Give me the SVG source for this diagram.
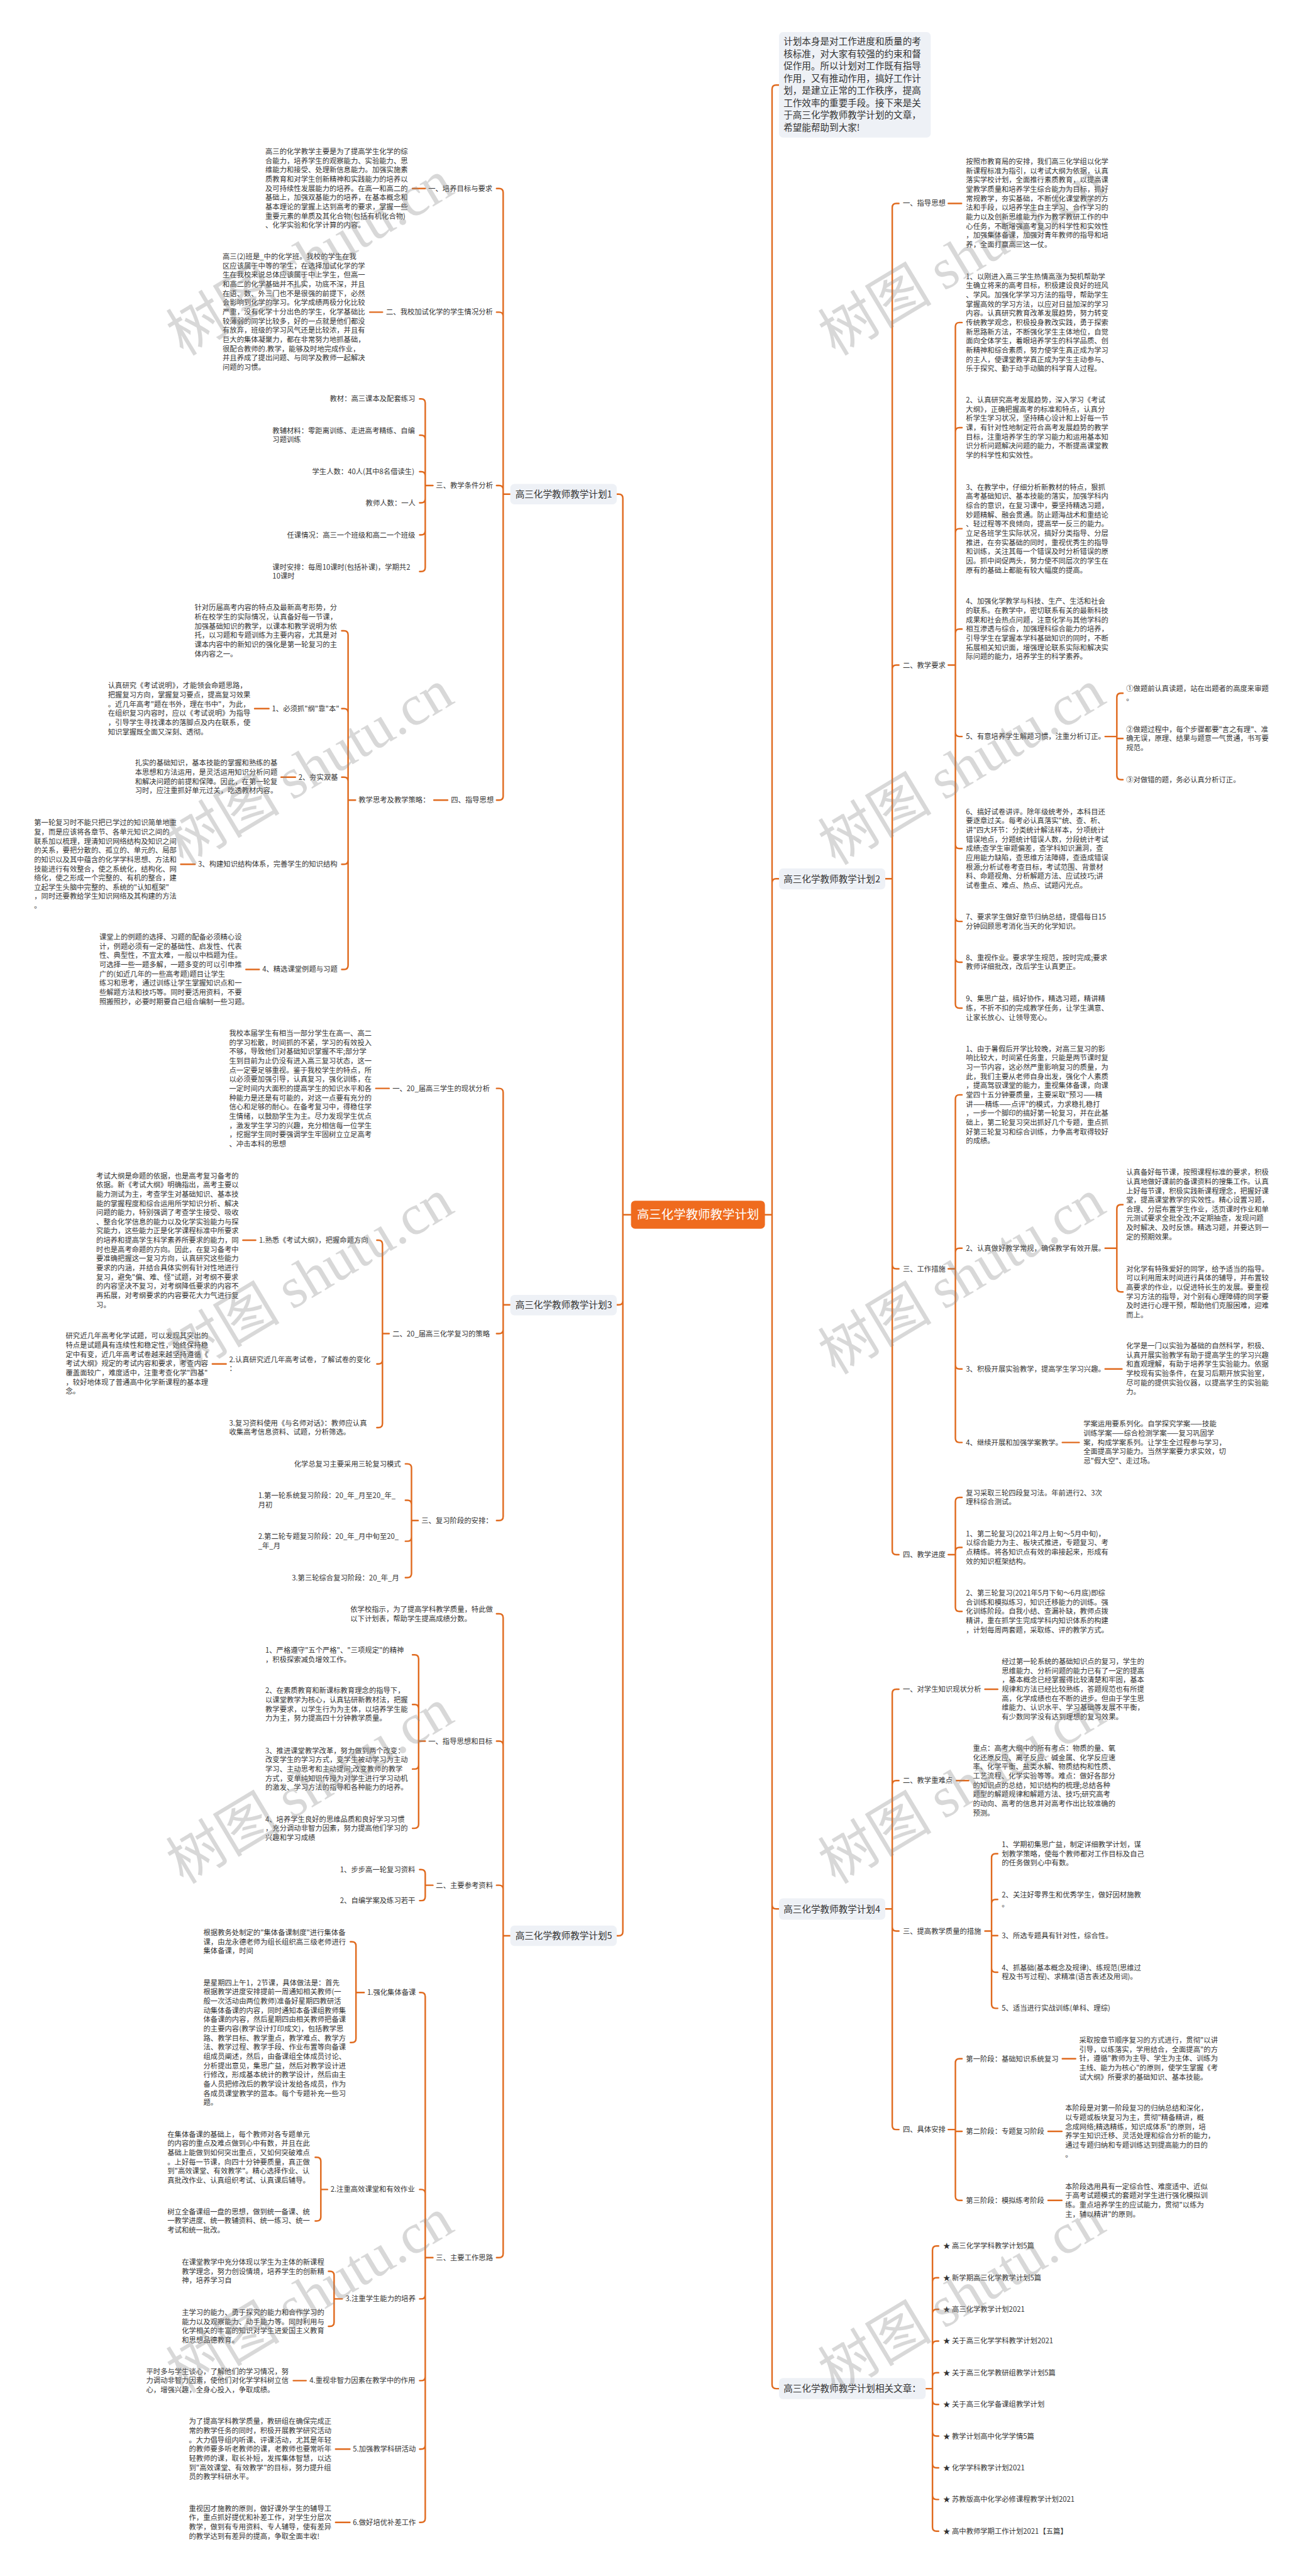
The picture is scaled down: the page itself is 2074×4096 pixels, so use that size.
<svg xmlns="http://www.w3.org/2000/svg" width="2074" height="4096" viewBox="0 0 2074 4096">
<style>
.t{font-family:"Noto Sans CJK SC","Liberation Sans",sans-serif;font-size:14px;fill:#333}
.m{font-size:18px}
.c{font-size:24px;fill:#fff}
.e{fill:none;stroke:#e06a1e;stroke-width:3;stroke-linecap:round}
.b{fill:#eef1f6}
.w{font-family:"Noto Sans CJK SC",sans-serif;font-size:112px;fill:#8a8a8a;fill-opacity:.33}
.ws{font-family:"Liberation Serif",serif}
</style>
<rect width="2074" height="4096" fill="#fff"/>
<g transform="scale(0.81)">
<g id="connectors">
<path class="e" d="M1239,2384.5H1223M1223,2384.5V978Q1223,970 1215,970H1211M1223,2384.5V2553.5Q1223,2561.5 1215,2561.5H1211M1223,2384.5V3792Q1223,3800 1215,3800H1211"/>
<path class="e" d="M1002,970H988M988,970V378Q988,370 980,370H975M988,970V620.8Q988,612.8 980,612.8H975M988,970V961Q988,953 980,953H975M988,970V1562.6Q988,1570.6 980,1570.6H975"/>
<path class="e" d="M835,370H810M751,612.8H726M850,953H835M835,953V791Q835,783 827,783H824M835,953V862.3Q835,854.3 827,854.3H824M835,953V934Q835,926 827,926H824M835,953V979Q835,987 827,987H824M835,953V1042Q835,1050 827,1050H824M835,953V1114Q835,1122 827,1122H824"/>
<path class="e" d="M879,1570.6H852M698,1570.6H683.5M683.5,1570.6V1246.3Q683.5,1238.3 675.5,1238.3H671M683.5,1570.6V1399Q683.5,1391 675.5,1391H671M683.5,1570.6V1533.7Q683.5,1525.7 675.5,1525.7H671M683.5,1570.6V1688.6Q683.5,1696.6 675.5,1696.6H671M683.5,1570.6V1895Q683.5,1903 675.5,1903H671M528,1391H500M580,1525.7H552M383,1696.6H355M509,1903H483"/>
<path class="e" d="M1002,2561.5H988M988,2561.5V2144.6Q988,2136.6 980,2136.6H975M988,2561.5V2610Q988,2618 980,2618H975M988,2561.5V2976.8Q988,2984.8 980,2984.8H975"/>
<path class="e" d="M764,2136.6H738M764,2618H751M751,2618V2442.6Q751,2434.6 743,2434.6H740M751,2618V2669.5Q751,2677.5 743,2677.5H740M751,2618V2794.5Q751,2802.5 743,2802.5H740M502,2434.6H477M444,2677.5H417"/>
<path class="e" d="M821,2984.8H808M808,2984.8V2881.6Q808,2873.6 800,2873.6H796M808,2984.8V2953Q808,2945 800,2945H796M808,2984.8V3017.5Q808,3025.5 800,3025.5H796M808,2984.8V3089Q808,3097 800,3097H796"/>
<path class="e" d="M1002,3800H988M988,3800V3176Q988,3168 980,3168H975M988,3800V3426Q988,3418 980,3418H975M988,3800V3708.8Q988,3700.8 980,3700.8H975M988,3800V4423.7Q988,4431.7 980,4431.7H975"/>
<path class="e" d="M835,3418H822M822,3418V3256.5Q822,3248.5 814,3248.5H810M822,3418V3354Q822,3346 814,3346H810M822,3418V3464.7Q822,3472.7 814,3472.7H810M822,3418V3581Q822,3589 814,3589H810"/>
<path class="e" d="M850,3700.8H835M835,3700.8V3678Q835,3670 827,3670H824M835,3700.8V3723Q835,3731 827,3731H824"/>
<path class="e" d="M850,4431.7H835M835,4431.7V3919.5Q835,3911.5 827,3911.5H824M835,4431.7V4306Q835,4298 827,4298H824M835,4431.7V4504.8Q835,4512.8 827,4512.8H824M835,4431.7V4665.3Q835,4673.3 827,4673.3H824M835,4431.7V4799.7Q835,4807.7 827,4807.7H824M835,4431.7V4943.6Q835,4951.6 827,4951.6H824"/>
<path class="e" d="M715,3911.5H699M699,3911.5V3819.8Q699,3811.8 691,3811.8H688M699,3911.5V4001.6Q699,4009.6 691,4009.6H688M643,4298H630M630,4298V4242.9Q630,4234.9 622,4234.9H619M630,4298V4351.8Q630,4359.8 622,4359.8H619M672,4512.8H656M656,4512.8V4466.7Q656,4458.7 648,4458.7H645M656,4512.8V4558.6Q656,4566.6 648,4566.6H645M601,4673.3H576M687,4807.7H659M687,4951.6H659"/>
<path class="e" d="M1502,2384.5H1516M1516,2384.5V175Q1516,167 1524,167H1529.6M1516,2384.5V1733Q1516,1725 1524,1725H1529.6M1516,2384.5V3739.3Q1516,3747.3 1524,3747.3H1529.6M1516,2384.5V4681Q1516,4689 1524,4689H1529.6"/>
<path class="e" d="M1738.3,1725H1752M1752,1725V407.3Q1752,399.3 1760,399.3H1765M1752,1725V1313.6Q1752,1305.6 1760,1305.6H1765M1752,1725V2482.7Q1752,2490.7 1760,2490.7H1765M1752,1725V3043.8Q1752,3051.8 1760,3051.8H1765M1862,399.3H1888"/>
<path class="e" d="M1862,1305.6H1876M1876,1305.6V641.2Q1876,633.2 1884,633.2H1889M1876,1305.6V847.6Q1876,839.6 1884,839.6H1889M1876,1305.6V1045.8Q1876,1037.8 1884,1037.8H1889M1876,1305.6V1242.9Q1876,1234.9 1884,1234.9H1889M1876,1305.6V1437.8Q1876,1445.8 1884,1445.8H1889M1876,1305.6V1657.7Q1876,1665.7 1884,1665.7H1889M1876,1305.6V1800.8Q1876,1808.8 1884,1808.8H1889M1876,1305.6V1880.8Q1876,1888.8 1884,1888.8H1889M1876,1305.6V1971Q1876,1979 1884,1979H1889"/>
<path class="e" d="M2170,1445.8H2193M2193,1445.8V1368.7Q2193,1360.7 2201,1360.7H2205M2193,1445.8V1449.8H2205M2193,1445.8V1522.5Q2193,1530.5 2201,1530.5H2205"/>
<path class="e" d="M1862,2490.7H1876M1876,2490.7V2157.2Q1876,2149.2 1884,2149.2H1889M1876,2490.7V2458.4Q1876,2450.4 1884,2450.4H1889M1876,2490.7V2679.3Q1876,2687.3 1884,2687.3H1889M1876,2490.7V2823.6Q1876,2831.6 1884,2831.6H1889M2170,2450.4H2193M2193,2450.4V2372.8Q2193,2364.8 2201,2364.8H2205M2193,2450.4V2528Q2193,2536 2201,2536H2205M2170,2687.3H2203M2086,2831.6H2119"/>
<path class="e" d="M1862,3051.8H1876M1876,3051.8V2947.5Q1876,2939.5 1884,2939.5H1889M1876,3051.8V3045.6Q1876,3037.6 1884,3037.6H1889M1876,3051.8V3155.2Q1876,3163.2 1884,3163.2H1889"/>
<path class="e" d="M1738.3,3747.3H1752M1752,3747.3V3324Q1752,3316 1760,3316H1765M1752,3747.3V3503.3Q1752,3495.3 1760,3495.3H1765M1752,3747.3V3782.8Q1752,3790.8 1760,3790.8H1765M1752,3747.3V4172.4Q1752,4180.4 1760,4180.4H1765M1934,3316H1959M1878,3495.3H1902"/>
<path class="e" d="M1934,3790.8H1947M1947,3790.8V3646.9Q1947,3638.9 1955,3638.9H1959M1947,3790.8V3736.7Q1947,3728.7 1955,3728.7H1959M1947,3790.8V3799.6H1959M1947,3790.8V3863.5Q1947,3871.5 1955,3871.5H1959M1947,3790.8V3934.4Q1947,3942.4 1955,3942.4H1959"/>
<path class="e" d="M1862,4180.4H1876M1876,4180.4V4049.3Q1876,4041.3 1884,4041.3H1889M1876,4180.4V4184H1889M1876,4180.4V4311.4Q1876,4319.4 1884,4319.4H1889M2086,4041.3H2112M2058,4184H2085M2058,4319.4H2085"/>
<path class="e" d="M1817.5,4689H1831M1831,4689V4417Q1831,4409 1839,4409H1843M1831,4689V4479.2Q1831,4471.2 1839,4471.2H1843M1831,4689V4541.4Q1831,4533.4 1839,4533.4H1843M1831,4689V4603.6Q1831,4595.6 1839,4595.6H1843M1831,4689V4665.8Q1831,4657.8 1839,4657.8H1843M1831,4689V4712Q1831,4720 1839,4720H1843M1831,4689V4774.2Q1831,4782.2 1839,4782.2H1843M1831,4689V4836.4Q1831,4844.4 1839,4844.4H1843M1831,4689V4898.6Q1831,4906.6 1839,4906.6H1843M1831,4689V4960.8Q1831,4968.8 1839,4968.8H1843"/>
</g>

<g id="center"><rect x="1239" y="2357" width="263" height="55" rx="8" fill="#ef6b1e"/><text class="t c" x="1370.5" y="2393" text-anchor="middle">高三化学教师教学计划</text></g>

<g id="intro"><rect class="b" x="1529.6" y="63" width="298" height="207" rx="8"/><text class="t m" x="1538.5" y="87.7"><tspan x="1538.5">计划本身是对工作进度和质量的考</tspan><tspan x="1538.5" dy="24.1">核标准，对大家有较强的约束和督</tspan><tspan x="1538.5" dy="24.1">促作用。所以计划对工作既有指导</tspan><tspan x="1538.5" dy="24.1">作用，又有推动作用，搞好工作计</tspan><tspan x="1538.5" dy="24.1">划，是建立正常的工作秩序，提高</tspan><tspan x="1538.5" dy="24.1">工作效率的重要手段。接下来是关</tspan><tspan x="1538.5" dy="24.1">于高三化学教师教学计划的文章，</tspan><tspan x="1538.5" dy="24.1">希望能帮助到大家!</tspan></text></g>

<g id="plan1"><rect class="b" x="1002" y="950" width="209" height="40" rx="8"/><text class="t m" x="1012" y="976.5">高三化学教师教学计划1</text></g>
<g id="p1-1"><text class="t" x="841" y="375">一、培养目标与要求</text></g>
<g id="p1-1a"><text class="t" x="521" y="302.5"><tspan x="521">高三的化学教学主要是为了提高学生化学的综</tspan><tspan x="521" dy="18.1">合能力，培养学生的观察能力、实验能力、思</tspan><tspan x="521" dy="18.1">维能力和接受、处理新信息能力。加强实施素</tspan><tspan x="521" dy="18.1">质教育和对学生创新精神和实践能力的培养以</tspan><tspan x="521" dy="18.1">及可持续性发展能力的培养。在高一和高二的</tspan><tspan x="521" dy="18.1">基础上，加强双基能力的培养，在基本概念和</tspan><tspan x="521" dy="18.1">基本理论的掌握上达到高考的要求，掌握一些</tspan><tspan x="521" dy="18.1">重要元素的单质及其化合物(包括有机化合物)</tspan><tspan x="521" dy="18.1">、化学实验和化学计算的内容。</tspan></text></g>
<g id="p1-2"><text class="t" x="758" y="617.8">二、我校加试化学的学生情况分析</text></g>
<g id="p1-2a"><text class="t" x="437" y="508.6"><tspan x="437">高三(2)班是_中的化学班。我校的学生在我</tspan><tspan x="437" dy="18.1">区应该属于中等的学生，在选择加试化学的学</tspan><tspan x="437" dy="18.1">生在我校来说总体应该属于中上学生，但高一</tspan><tspan x="437" dy="18.1">和高二的化学基础并不扎实，功底不深，并且</tspan><tspan x="437" dy="18.1">在语、数、外三门也不是很强的前提下，必然</tspan><tspan x="437" dy="18.1">会影响到化学的学习。化学成绩两极分化比较</tspan><tspan x="437" dy="18.1">严重，没有化学十分出色的学生，化学基础比</tspan><tspan x="437" dy="18.1">较薄弱的同学比较多，好的一点就是他们都没</tspan><tspan x="437" dy="18.1">有放弃，班级的学习风气还是比较浓，并且有</tspan><tspan x="437" dy="18.1">巨大的集体凝聚力，都在非常努力地抓基础，</tspan><tspan x="437" dy="18.1">很配合教师的.教学，能够及时地完成作业，</tspan><tspan x="437" dy="18.1">并且养成了提出问题、与同学及教师一起解决</tspan><tspan x="437" dy="18.1">问题的习惯。</tspan></text></g>
<g id="p1-3"><text class="t" x="856" y="958">三、教学条件分析</text></g>
<g id="p1-3a"><text class="t" x="647.5" y="788">教材：高三课本及配套练习</text></g>
<g id="p1-3b"><text class="t" x="535" y="850.4"><tspan x="535">教辅材料：零距离训练、走进高考精练、自编</tspan><tspan x="535" dy="18.1">习题训练</tspan></text></g>
<g id="p1-3c"><text class="t" x="613" y="931">学生人数：40人(其中8名借读生)</text></g>
<g id="p1-3d"><text class="t" x="718" y="992">教师人数：一人</text></g>
<g id="p1-3e"><text class="t" x="563.6" y="1055">任课情况：高三一个班级和高二一个班级</text></g>
<g id="p1-3f"><text class="t" x="535" y="1118"><tspan x="535">课时安排：每周10课时(包括补课)，学期共2</tspan><tspan x="535" dy="18.1">10课时</tspan></text></g>
<g id="p1-4"><text class="t" x="885.5" y="1575.6">四、指导思想</text></g>
<g id="p1-4a"><text class="t" x="704" y="1575.6">教学思考及教学策略：</text></g>
<g id="p1-4a0"><text class="t" x="382" y="1198"><tspan x="382">针对历届高考内容的特点及最新高考形势，分</tspan><tspan x="382" dy="18.1">析在校学生的实际情况，认真备好每一节课，</tspan><tspan x="382" dy="18.1">加强基础知识的教学，以课本和教学说明为依</tspan><tspan x="382" dy="18.1">托，以习题和专题训练为主要内容，尤其是对</tspan><tspan x="382" dy="18.1">课本内容中的新知识的强化是第一轮复习的主</tspan><tspan x="382" dy="18.1">体内容之一。</tspan></text></g>
<g id="p1-4a1"><text class="t" x="534" y="1396">1、必须抓"纲"靠"本"</text></g>
<g id="p1-4a1x"><text class="t" x="212" y="1351"><tspan x="212">认真研究《考试说明》，才能领会命题思路，</tspan><tspan x="212" dy="18.1">把握复习方向，掌握复习要点，提高复习效果</tspan><tspan x="212" dy="18.1">。近几年高考"题在书外，理在书中"，为此，</tspan><tspan x="212" dy="18.1">在组织复习内容时，应以《考试说明》为指导</tspan><tspan x="212" dy="18.1">，引导学生寻找课本的落脚点及内在联系，使</tspan><tspan x="212" dy="18.1">知识掌握既全面又深刻、透彻。</tspan></text></g>
<g id="p1-4a2"><text class="t" x="586" y="1530.7">2、夯实双基</text></g>
<g id="p1-4a2x"><text class="t" x="265" y="1503"><tspan x="265">扎实的基础知识，基本技能的掌握和熟练的基</tspan><tspan x="265" dy="18.1">本思想和方法运用，是灵活运用知识分析问题</tspan><tspan x="265" dy="18.1">和解决问题的前提和保障。因此，在第一轮复</tspan><tspan x="265" dy="18.1">习时，应注重抓好单元过关，吃透教材内容。</tspan></text></g>
<g id="p1-4a3"><text class="t" x="389" y="1701.6">3、构建知识结构体系，完善学生的知识结构</text></g>
<g id="p1-4a3x"><text class="t" x="67" y="1620"><tspan x="67">第一轮复习时不能只把已学过的知识简单地重</tspan><tspan x="67" dy="18.1">复，而是应该将各章节、各单元知识之间的</tspan><tspan x="67" dy="18.1">联系加以梳理，理清知识网络结构及知识之间</tspan><tspan x="67" dy="18.1">的关系，要把分散的、孤立的、单元的、局部</tspan><tspan x="67" dy="18.1">的知识以及其中蕴含的化学学科思想、方法和</tspan><tspan x="67" dy="18.1">技能进行有效整合，使之系统化，结构化、网</tspan><tspan x="67" dy="18.1">络化，使之形成一个完整的、有机的整合，建</tspan><tspan x="67" dy="18.1">立起学生头脑中完整的、系统的"认知框架"</tspan><tspan x="67" dy="18.1">，同时还要教给学生知识网络及其构建的方法</tspan><tspan x="67" dy="18.1">。</tspan></text></g>
<g id="p1-4a4"><text class="t" x="515" y="1908">4、精选课堂例题与习题</text></g>
<g id="p1-4a4x"><text class="t" x="195" y="1844.6"><tspan x="195">课堂上的例题的选择、习题的配备必须精心设</tspan><tspan x="195" dy="18.1">计，例题必须有一定的基础性、启发性、代表</tspan><tspan x="195" dy="18.1">性、典型性，不宜太难，一般以中档题为佳。</tspan><tspan x="195" dy="18.1">可选择一些一题多解，一题多变的可以引申推</tspan><tspan x="195" dy="18.1">广的(如近几年的一些高考题)题目让学生</tspan><tspan x="195" dy="18.1">练习和思考，通过训练让学生掌握知识点和一</tspan><tspan x="195" dy="18.1">些解题方法和技巧等。同时要活用资料，不要</tspan><tspan x="195" dy="18.1">照搬照抄，必要时期要自己组合编制一些习题。</tspan></text></g>

<g id="plan3"><rect class="b" x="1002" y="2542" width="209" height="40" rx="8"/><text class="t m" x="1012" y="2568">高三化学教师教学计划3</text></g>
<g id="p3-1"><text class="t" x="770.6" y="2141.6">一、20_届高三学生的现状分析</text></g>
<g id="p3-1a"><text class="t" x="450" y="2033.5"><tspan x="450">我校本届学生有相当一部分学生在高一、高二</tspan><tspan x="450" dy="18.1">的学习松散，时间抓的不紧，学习的有效投入</tspan><tspan x="450" dy="18.1">不够，导致他们对基础知识掌握不牢;部分学</tspan><tspan x="450" dy="18.1">生到目前为止仍没有进入高三复习状态，这一</tspan><tspan x="450" dy="18.1">点一定要足够重视。鉴于我校学生的特点，所</tspan><tspan x="450" dy="18.1">以必须要加强引导，认真复习，强化训练，在</tspan><tspan x="450" dy="18.1">一定时间内大面积的提高学生的知识水平和各</tspan><tspan x="450" dy="18.1">种能力是还是有可能的，对这一点要有充分的</tspan><tspan x="450" dy="18.1">信心和足够的耐心。在备考复习中，得稳住学</tspan><tspan x="450" dy="18.1">生情绪，以鼓励学生为主。尽力发现学生优点</tspan><tspan x="450" dy="18.1">，激发学生学习的兴趣，充分相信每一位学生</tspan><tspan x="450" dy="18.1">，挖掘学生同时要强调学生牢固树立立足高考</tspan><tspan x="450" dy="18.1">、冲击本科的思想</tspan></text></g>
<g id="p3-2"><text class="t" x="770.6" y="2623">二、20_届高三化学复习的策略</text></g>
<g id="p3-2a"><text class="t" x="508.6" y="2439.6">1.熟悉《考试大纲》，把握命题方向</text></g>
<g id="p3-2ax"><text class="t" x="189" y="2313"><tspan x="189">考试大纲是命题的依据，也是高考复习备考的</tspan><tspan x="189" dy="18.1">依据。新《考试大纲》明确指出，高考主要以</tspan><tspan x="189" dy="18.1">能力测试为主，考查学生对基础知识、基本技</tspan><tspan x="189" dy="18.1">能的掌握程度和综合运用所学知识分析、解决</tspan><tspan x="189" dy="18.1">问题的能力，特别强调了考查学生接受、吸收</tspan><tspan x="189" dy="18.1">、整合化学信息的能力以及化学实验能力与探</tspan><tspan x="189" dy="18.1">究能力，这些能力正是化学课程标准中所要求</tspan><tspan x="189" dy="18.1">的培养和提高学生科学素养所要求的能力，同</tspan><tspan x="189" dy="18.1">时也是高考命题的方向。因此，在复习备考中</tspan><tspan x="189" dy="18.1">要准确把握这一复习方向，认真研究这些能力</tspan><tspan x="189" dy="18.1">要求的内涵，并结合具体实例有针对性地进行</tspan><tspan x="189" dy="18.1">复习，避免"偏、难、怪"试题，对考纲不要求</tspan><tspan x="189" dy="18.1">的内容坚决不复习，对考纲降低要求的内容不</tspan><tspan x="189" dy="18.1">再拓展，对考纲要求的内容要花大力气进行复</tspan><tspan x="189" dy="18.1">习。</tspan></text></g>
<g id="p3-2b"><text class="t" x="450" y="2673.5"><tspan x="450">2.认真研究近几年高考试卷，了解试卷的变化</tspan><tspan x="450" dy="18.1">：</tspan></text></g>
<g id="p3-2bx"><text class="t" x="129" y="2627.7"><tspan x="129">研究近几年高考化学试题，可以发现其突出的</tspan><tspan x="129" dy="18.1">特点是试题具有连续性和稳定性，始终保持稳</tspan><tspan x="129" dy="18.1">定中有变，近几年高考试卷越来越坚持遵循《</tspan><tspan x="129" dy="18.1">考试大纲》规定的考试内容和要求，考查内容</tspan><tspan x="129" dy="18.1">覆盖面较广，难度适中，注重考查化学"四基"</tspan><tspan x="129" dy="18.1">，较好地体现了普通高中化学新课程的基本理</tspan><tspan x="129" dy="18.1">念。</tspan></text></g>
<g id="p3-2c"><text class="t" x="450" y="2798.5"><tspan x="450">3.复习资料使用《与名师对话》：教师应认真</tspan><tspan x="450" dy="18.1">收集高考信息资料、试题，分析筛选。</tspan></text></g>
<g id="p3-3"><text class="t" x="827.5" y="2989.8">三、复习阶段的安排：</text></g>
<g id="p3-3a"><text class="t" x="577.5" y="2878.6">化学总复习主要采用三轮复习模式</text></g>
<g id="p3-3b"><text class="t" x="507" y="2941"><tspan x="507">1.第一轮系统复习阶段：20_年_月至20_年_</tspan><tspan x="507" dy="18.1">月初</tspan></text></g>
<g id="p3-3c"><text class="t" x="507" y="3021.4"><tspan x="507">2.第二轮专题复习阶段：20_年_月中旬至20_</tspan><tspan x="507" dy="18.1">_年_月</tspan></text></g>
<g id="p3-3d"><text class="t" x="573" y="3102">3.第三轮综合复习阶段：20_年_月</text></g>

<g id="plan5"><rect class="b" x="1002" y="3780" width="209" height="40" rx="8"/><text class="t m" x="1012" y="3806.5">高三化学教师教学计划5</text></g>
<g id="p5-0"><text class="t" x="688" y="3164"><tspan x="688">依学校指示，为了提高学科教学质量，特此做</tspan><tspan x="688" dy="18.1">以下计划表，帮助学生提高成绩分数。</tspan></text></g>
<g id="p5-1"><text class="t" x="841" y="3423">一、指导思想和目标</text></g>
<g id="p5-1a"><text class="t" x="521" y="3244.4"><tspan x="521">1、严格遵守"五个严格"、"三项规定"的精神</tspan><tspan x="521" dy="18.1">，积极探索减负增效工作。</tspan></text></g>
<g id="p5-1b"><text class="t" x="521" y="3324"><tspan x="521">2、在素质教育和新课标教育理念的指导下，</tspan><tspan x="521" dy="18.1">以课堂教学为核心，认真钻研新教材法，把握</tspan><tspan x="521" dy="18.1">教学要求，以学生行为为主体，以培养学生能</tspan><tspan x="521" dy="18.1">力为主，努力提高四十分钟教学质量。</tspan></text></g>
<g id="p5-1c"><text class="t" x="521" y="3441.5"><tspan x="521">3、推进课堂教学改革，努力做到两个改变：</tspan><tspan x="521" dy="18.1">改变学生的学习方式，变学生被动学习为主动</tspan><tspan x="521" dy="18.1">学习、主动思考和主动提问;改变教师的教学</tspan><tspan x="521" dy="18.1">方式，变单纯知识传授为对学生进行学习动机</tspan><tspan x="521" dy="18.1">的激发、学习方法的指导和各种能力的培养。</tspan></text></g>
<g id="p5-1d"><text class="t" x="521" y="3576"><tspan x="521">4、培养学生良好的思维品质和良好学习习惯</tspan><tspan x="521" dy="18.1">，充分调动非智力因素，努力提高他们学习的</tspan><tspan x="521" dy="18.1">兴趣和学习成绩</tspan></text></g>
<g id="p5-2"><text class="t" x="856" y="3705.8">二、主要参考资料</text></g>
<g id="p5-2a"><text class="t" x="667.7" y="3675">1、步步高一轮复习资料</text></g>
<g id="p5-2b"><text class="t" x="667.7" y="3736">2、自编学案及练习若干</text></g>
<g id="p5-3"><text class="t" x="856" y="4436.7">三、主要工作思路</text></g>
<g id="p5-3a"><text class="t" x="721" y="3916.5">1.强化集体备课</text></g>
<g id="p5-3a1"><text class="t" x="399.4" y="3798.7"><tspan x="399.4">根据教务处制定的"集体备课制度"进行集体备</tspan><tspan x="399.4" dy="18.1">课，由龙永德老师为组长组织高三级老师进行</tspan><tspan x="399.4" dy="18.1">集体备课，时间</tspan></text></g>
<g id="p5-3a2"><text class="t" x="399.4" y="3897"><tspan x="399.4">是星期四上午1，2节课，具体做法是：首先</tspan><tspan x="399.4" dy="18.1">根据教学进度安排提前一周通知相关教师(一</tspan><tspan x="399.4" dy="18.1">般一次活动由两位教师)准备好星期四教研活</tspan><tspan x="399.4" dy="18.1">动集体备课的内容，同时通知本备课组教师集</tspan><tspan x="399.4" dy="18.1">体备课的内容，然后星期四由相关教师把备课</tspan><tspan x="399.4" dy="18.1">的主要内容(教学设计打印成文)，包括教学思</tspan><tspan x="399.4" dy="18.1">路、教学目标、教学重点，教学难点、教学方</tspan><tspan x="399.4" dy="18.1">法、教学过程、教学手段、作业布置等向备课</tspan><tspan x="399.4" dy="18.1">组成员阐述，然后，由备课组全体成员讨论、</tspan><tspan x="399.4" dy="18.1">分析提出意见，集思广益，然后对教学设计进</tspan><tspan x="399.4" dy="18.1">行修改，形成基本统计的教学设计，然后由主</tspan><tspan x="399.4" dy="18.1">备人员把修改后的教学设计发给各成员，作为</tspan><tspan x="399.4" dy="18.1">各成员课堂教学的蓝本。每个专题补充一些习</tspan><tspan x="399.4" dy="18.1">题。</tspan></text></g>
<g id="p5-3b"><text class="t" x="649" y="4303">2.注重高效课堂和有效作业</text></g>
<g id="p5-3b1"><text class="t" x="328.7" y="4194.6"><tspan x="328.7">在集体备课的基础上，每个教师对各专题单元</tspan><tspan x="328.7" dy="18.1">的内容的重点及难点做到心中有数，并且在此</tspan><tspan x="328.7" dy="18.1">基础上能做到如何突出重点，又如何突破难点</tspan><tspan x="328.7" dy="18.1">。上好每一节课，向四十分钟要质量，真正做</tspan><tspan x="328.7" dy="18.1">到"高效课堂、有效教学"。精心选择作业、认</tspan><tspan x="328.7" dy="18.1">真批改作业、认真组织考试、认真课后辅导。</tspan></text></g>
<g id="p5-3b2"><text class="t" x="328.7" y="4346.7"><tspan x="328.7">树立全备课组一盘的思想，做到统一备课、统</tspan><tspan x="328.7" dy="18.1">一教学进度、统一教辅资料、统一练习、统一</tspan><tspan x="328.7" dy="18.1">考试和统一批改。</tspan></text></g>
<g id="p5-3c"><text class="t" x="678.5" y="4517.8">3.注重学生能力的培养</text></g>
<g id="p5-3c1"><text class="t" x="357" y="4445.6"><tspan x="357">在课堂教学中充分体现以学生为主体的新课程</tspan><tspan x="357" dy="18.1">教学理念，努力创设情境，培养学生的创新精</tspan><tspan x="357" dy="18.1">神，培养学习自</tspan></text></g>
<g id="p5-3c2"><text class="t" x="357" y="4544.4"><tspan x="357">主学习的能力、勇于探究的能力和合作学习的</tspan><tspan x="357" dy="18.1">能力以及观察能力、动手能力等。同时利用与</tspan><tspan x="357" dy="18.1">化学相关的丰富的知识对学生进爱国主义教育</tspan><tspan x="357" dy="18.1">和思想品德教育。</tspan></text></g>
<g id="p5-3d"><text class="t" x="607.7" y="4678.3">4.重视非智力因素在教学中的作用</text></g>
<g id="p5-3d1"><text class="t" x="287" y="4660.2"><tspan x="287">平时多与学生谈心，了解他们的学习情况，努</tspan><tspan x="287" dy="18.1">力调动非智力因素，使他们对化学学科树立信</tspan><tspan x="287" dy="18.1">心，增强兴趣，全身心投入，争取成绩。</tspan></text></g>
<g id="p5-3e"><text class="t" x="693" y="4812.7">5.加强教学科研活动</text></g>
<g id="p5-3e1"><text class="t" x="371" y="4758.4"><tspan x="371">为了提高学科教学质量，教研组在确保完成正</tspan><tspan x="371" dy="18.1">常的教学任务的同时，积极开展教学研究活动</tspan><tspan x="371" dy="18.1">。大力倡导组内听课、评课活动，尤其是年轻</tspan><tspan x="371" dy="18.1">的教师要多听老教师的课，老教师也要常听年</tspan><tspan x="371" dy="18.1">轻教师的课，取长补短，发挥集体智慧，以达</tspan><tspan x="371" dy="18.1">到"高效课堂、有效教学"的目标，努力提升组</tspan><tspan x="371" dy="18.1">员的教学科研水平。</tspan></text></g>
<g id="p5-3f"><text class="t" x="693" y="4956.6">6.做好培优补差工作</text></g>
<g id="p5-3f1"><text class="t" x="371" y="4929.4"><tspan x="371">重视因才施教的原则，做好课外学生的辅导工</tspan><tspan x="371" dy="18.1">作，重点抓好提优和补差工作，对学生分层次</tspan><tspan x="371" dy="18.1">教学，做到有专用资料、专人辅导，使有差异</tspan><tspan x="371" dy="18.1">的教学达到有差异的提高，争取全面丰收!</tspan></text></g>

<g id="plan2"><rect class="b" x="1529.6" y="1704.7" width="208.7" height="41.3" rx="8"/><text class="t m" x="1538.5" y="1731.5">高三化学教师教学计划2</text></g>
<g id="p2-1"><text class="t" x="1772.7" y="404.3">一、指导思想</text></g>
<g id="p2-1a"><text class="t" x="1896.7" y="322.2"><tspan x="1896.7">按照市教育局的安排，我们高三化学组以化学</tspan><tspan x="1896.7" dy="18.1">新课程标准为指引，以考试大纲为依据，认真</tspan><tspan x="1896.7" dy="18.1">落实学校计划，全面推行素质教育，以提高课</tspan><tspan x="1896.7" dy="18.1">堂教学质量和培养学生综合能力为目标，抓好</tspan><tspan x="1896.7" dy="18.1">常规教学，夯实基础，不断优化课堂教学的方</tspan><tspan x="1896.7" dy="18.1">法和手段，以培养学生自主学习、合作学习的</tspan><tspan x="1896.7" dy="18.1">能力以及创新思维能力作为教学教研工作的中</tspan><tspan x="1896.7" dy="18.1">心任务，不断增强高考复习的科学性和实效性</tspan><tspan x="1896.7" dy="18.1">，加强集体备课，加强对青年教师的指导和培</tspan><tspan x="1896.7" dy="18.1">养，全面打赢高三这一仗。</tspan></text></g>
<g id="p2-2"><text class="t" x="1772.7" y="1310.6">二、教学要求</text></g>
<g id="p2-2a"><text class="t" x="1896.7" y="547.7"><tspan x="1896.7">1、以刚进入高三学生热情高涨为契机帮助学</tspan><tspan x="1896.7" dy="18.1">生确立将来的高考目标，积极建设良好的班风</tspan><tspan x="1896.7" dy="18.1">、学风。加强化学学习方法的指导，帮助学生</tspan><tspan x="1896.7" dy="18.1">掌握高效的学习方法，以应对日益加深的学习</tspan><tspan x="1896.7" dy="18.1">内容。认真研究教育改革发展趋势，努力转变</tspan><tspan x="1896.7" dy="18.1">传统教学观念，积极投身教改实践，勇于探索</tspan><tspan x="1896.7" dy="18.1">新思路新方法，不断强化学生主体地位，自觉</tspan><tspan x="1896.7" dy="18.1">面向全体学生，着眼培养学生的科学品质、创</tspan><tspan x="1896.7" dy="18.1">新精神和综合素质，努力使学生真正成为学习</tspan><tspan x="1896.7" dy="18.1">的主人，使课堂教学真正成为学生主动参与、</tspan><tspan x="1896.7" dy="18.1">乐于探究、勤于动手动脑的科学育人过程。</tspan></text></g>
<g id="p2-2b"><text class="t" x="1896.7" y="790.3"><tspan x="1896.7">2、认真研究高考发展趋势，深入学习《考试</tspan><tspan x="1896.7" dy="18.1">大纲》，正确把握高考的标准和特点，认真分</tspan><tspan x="1896.7" dy="18.1">析学生学习状况，坚持精心设计和上好每一节</tspan><tspan x="1896.7" dy="18.1">课，有针对性地制定符合高考发展趋势的教学</tspan><tspan x="1896.7" dy="18.1">目标，注重培养学生的学习能力和运用基本知</tspan><tspan x="1896.7" dy="18.1">识分析问题解决问题的能力，不断提高课堂教</tspan><tspan x="1896.7" dy="18.1">学的科学性和实效性。</tspan></text></g>
<g id="p2-2c"><text class="t" x="1896.7" y="961.3"><tspan x="1896.7">3、在教学中，仔细分析新教材的特点，狠抓</tspan><tspan x="1896.7" dy="18.1">高考基础知识、基本技能的落实，加强学科内</tspan><tspan x="1896.7" dy="18.1">综合的意识，在复习课中，要坚持精选习题，</tspan><tspan x="1896.7" dy="18.1">妙题精解、融会贯通。防止题海战术和重结论</tspan><tspan x="1896.7" dy="18.1">、轻过程等不良倾向，提高举一反三的能力。</tspan><tspan x="1896.7" dy="18.1">立足各班学生实际状况，搞好分类指导、分层</tspan><tspan x="1896.7" dy="18.1">推进，在夯实基础的同时，重视优秀生的指导</tspan><tspan x="1896.7" dy="18.1">和训练，关注其每一个错误及时分析错误的原</tspan><tspan x="1896.7" dy="18.1">因。抓中间促两头，努力使不同层次的学生在</tspan><tspan x="1896.7" dy="18.1">原有的基础上都能有较大幅度的提高。</tspan></text></g>
<g id="p2-2d"><text class="t" x="1896.7" y="1185.6"><tspan x="1896.7">4、加强化学教学与科技、生产、生活和社会</tspan><tspan x="1896.7" dy="18.1">的联系。在教学中，密切联系有关的最新科技</tspan><tspan x="1896.7" dy="18.1">成果和社会热点问题，注意化学与其他学科的</tspan><tspan x="1896.7" dy="18.1">相互渗透与综合，加强理科综合能力的培养，</tspan><tspan x="1896.7" dy="18.1">引导学生在掌握本学科基础知识的同时，不断</tspan><tspan x="1896.7" dy="18.1">拓展相关知识面，增强理论联系实际和解决实</tspan><tspan x="1896.7" dy="18.1">际问题的能力，培养学生的科学素养。</tspan></text></g>
<g id="p2-2e"><text class="t" x="1896.7" y="1450.8">5、有意培养学生解题习惯，注重分析订正。</text></g>
<g id="p2-2e1"><text class="t" x="2211.4" y="1356.7"><tspan x="2211.4">①做题前认真读题，站在出题者的高度来审题</tspan><tspan x="2211.4" dy="18.1">。</tspan></text></g>
<g id="p2-2e2"><text class="t" x="2211.4" y="1436.7"><tspan x="2211.4">②做题过程中，每个步骤都要"言之有理"、准</tspan><tspan x="2211.4" dy="18.1">确无误，原理、结果与题意一气贯通，书写要</tspan><tspan x="2211.4" dy="18.1">规范。</tspan></text></g>
<g id="p2-2e3"><text class="t" x="2211.4" y="1535.5">③对做错的题，务必认真分析订正。</text></g>
<g id="p2-2f"><text class="t" x="1896.7" y="1598.3"><tspan x="1896.7">6、搞好试卷讲评。除年级统考外，本科目还</tspan><tspan x="1896.7" dy="18.1">要逐章过关。每考必认真落实"统、查、析、</tspan><tspan x="1896.7" dy="18.1">讲"四大环节：分类统计解法样本，分项统计</tspan><tspan x="1896.7" dy="18.1">错误地点，分题统计错误人数，分段统计考试</tspan><tspan x="1896.7" dy="18.1">成绩;查学生审题偏差，查学科知识漏洞，查</tspan><tspan x="1896.7" dy="18.1">应用能力缺陷，查思维方法障碍，查造成错误</tspan><tspan x="1896.7" dy="18.1">根源;分析试卷考查目标，考试范围、背景材</tspan><tspan x="1896.7" dy="18.1">料、命题视角、分析解题方法、应试技巧;讲</tspan><tspan x="1896.7" dy="18.1">试卷重点、难点、热点、试题闪光点。</tspan></text></g>
<g id="p2-2g"><text class="t" x="1896.7" y="1804.8"><tspan x="1896.7">7、要求学生做好章节归纳总结，提倡每日15</tspan><tspan x="1896.7" dy="18.1">分钟回顾思考消化当天的化学知识。</tspan></text></g>
<g id="p2-2h"><text class="t" x="1896.7" y="1884.8"><tspan x="1896.7">8、重视作业。要求学生规范，按时完成;要求</tspan><tspan x="1896.7" dy="18.1">教师详细批改，改后学生认真更正。</tspan></text></g>
<g id="p2-2i"><text class="t" x="1896.7" y="1965.9"><tspan x="1896.7">9、集思广益，搞好协作，精选习题，精讲精</tspan><tspan x="1896.7" dy="18.1">练，不折不扣的完成教学任务，让学生满意、</tspan><tspan x="1896.7" dy="18.1">让家长放心、让领导宽心。</tspan></text></g>
<g id="p2-3"><text class="t" x="1772.7" y="2495.7">三、工作措施</text></g>
<g id="p2-3a"><text class="t" x="1896.7" y="2063.7"><tspan x="1896.7">1、由于暑假后开学比较晚，对高三复习的影</tspan><tspan x="1896.7" dy="18.1">响比较大，时间紧任务重，只能是两节课时复</tspan><tspan x="1896.7" dy="18.1">习一节内容，这必然严重影响复习的质量，为</tspan><tspan x="1896.7" dy="18.1">此，我们主要从老师自身出发，强化个人素质</tspan><tspan x="1896.7" dy="18.1">，提高驾驭课堂的能力，重视集体备课，向课</tspan><tspan x="1896.7" dy="18.1">堂四十五分钟要质量，主要采取"预习——精</tspan><tspan x="1896.7" dy="18.1">讲——精练——点评"的模式，力求稳扎稳打</tspan><tspan x="1896.7" dy="18.1">，一步一个脚印的搞好第一轮复习，并在此基</tspan><tspan x="1896.7" dy="18.1">础上，第二轮复习突出抓好几个专题，重点抓</tspan><tspan x="1896.7" dy="18.1">好第三轮复习和综合训练，力争高考取得较好</tspan><tspan x="1896.7" dy="18.1">的成绩。</tspan></text></g>
<g id="p2-3b"><text class="t" x="1896.7" y="2455.4">2、认真做好教学常规，确保教学有效开展。</text></g>
<g id="p2-3b1"><text class="t" x="2211.4" y="2306.4"><tspan x="2211.4">认真备好每节课，按照课程标准的要求，积极</tspan><tspan x="2211.4" dy="18.1">认真地做好课前的备课资料的搜集工作。认真</tspan><tspan x="2211.4" dy="18.1">上好每节课，积极实践新课程理念，把握好课</tspan><tspan x="2211.4" dy="18.1">堂，提高课堂教学的实效性。精心设置习题，</tspan><tspan x="2211.4" dy="18.1">合理、分层布置学生作业，活页课时作业和单</tspan><tspan x="2211.4" dy="18.1">元测试要求全批全改;不定期抽查，发现问题</tspan><tspan x="2211.4" dy="18.1">及时解决、及时反馈。精选习题，并要达到一</tspan><tspan x="2211.4" dy="18.1">定的预期效果。</tspan></text></g>
<g id="p2-3b2"><text class="t" x="2211.4" y="2495.7"><tspan x="2211.4">对化学有特殊爱好的同学，给予适当的指导。</tspan><tspan x="2211.4" dy="18.1">可以利用周末时间进行具体的辅导，并布置较</tspan><tspan x="2211.4" dy="18.1">高要求的作业，以促进特长生的发展。要重视</tspan><tspan x="2211.4" dy="18.1">学习方法的指导，对个别有心理障碍的同学要</tspan><tspan x="2211.4" dy="18.1">及时进行心理干预，帮助他们克服困难，迎难</tspan><tspan x="2211.4" dy="18.1">而上。</tspan></text></g>
<g id="p2-3c"><text class="t" x="1896.7" y="2692.3">3、积极开展实验教学，提高学生学习兴趣。</text></g>
<g id="p2-3c1"><text class="t" x="2211.4" y="2647.1"><tspan x="2211.4">化学是一门以实验为基础的自然科学，积极、</tspan><tspan x="2211.4" dy="18.1">认真开展实验教学有助于提高学生的学习兴趣</tspan><tspan x="2211.4" dy="18.1">和直观理解，有助于培养学生实验能力。依据</tspan><tspan x="2211.4" dy="18.1">学校现有实验条件，在复习后期开放实验室，</tspan><tspan x="2211.4" dy="18.1">尽可能的提供实验仪器，以提高学生的实验能</tspan><tspan x="2211.4" dy="18.1">力。</tspan></text></g>
<g id="p2-3d"><text class="t" x="1896.7" y="2836.6">4、继续开展和加强学案教学。</text></g>
<g id="p2-3d1"><text class="t" x="2127.4" y="2800.4"><tspan x="2127.4">学案运用要系列化。自学探究学案——技能</tspan><tspan x="2127.4" dy="18.1">训练学案——综合检测学案——复习巩固学</tspan><tspan x="2127.4" dy="18.1">案，构成学案系列。让学生全过程参与学习，</tspan><tspan x="2127.4" dy="18.1">全面提高学习能力。当然学案要力求实效，切</tspan><tspan x="2127.4" dy="18.1">忌"假大空"、走过场。</tspan></text></g>
<g id="p2-4"><text class="t" x="1772.7" y="3056.8">四、教学进度</text></g>
<g id="p2-4a"><text class="t" x="1896.7" y="2935.5"><tspan x="1896.7">复习采取三轮四段复习法。年前进行2、3次</tspan><tspan x="1896.7" dy="18.1">理科综合测试。</tspan></text></g>
<g id="p2-4b"><text class="t" x="1896.7" y="3015.5"><tspan x="1896.7">1、第二轮复习(2021年2月上旬～5月中旬)，</tspan><tspan x="1896.7" dy="18.1">以综合能力为主、板块式推进，专题复习、考</tspan><tspan x="1896.7" dy="18.1">点精练。将各知识点有效的串接起来，形成有</tspan><tspan x="1896.7" dy="18.1">效的知识框架结构。</tspan></text></g>
<g id="p2-4c"><text class="t" x="1896.7" y="3132"><tspan x="1896.7">2、第三轮复习(2021年5月下旬～6月底)即综</tspan><tspan x="1896.7" dy="18.1">合训练和模拟练习，知识迁移能力的训练。强</tspan><tspan x="1896.7" dy="18.1">化训练阶段。自我小结、查漏补缺，教师点拨</tspan><tspan x="1896.7" dy="18.1">精讲，重在抓学生完成学科内知识体系的构建</tspan><tspan x="1896.7" dy="18.1">，计划每周两套题，采取练、评的教学方式。</tspan></text></g>

<g id="plan4"><rect class="b" x="1529.6" y="3726.4" width="208.7" height="42" rx="8"/><text class="t m" x="1538.5" y="3753.8">高三化学教师教学计划4</text></g>
<g id="p4-1"><text class="t" x="1772.7" y="3321">一、对学生知识现状分析</text></g>
<g id="p4-1a"><text class="t" x="1967" y="3266.7"><tspan x="1967">经过第一轮系统的基础知识点的复习，学生的</tspan><tspan x="1967" dy="18.1">思维能力、分析问题的能力已有了一定的提高</tspan><tspan x="1967" dy="18.1">，基本概念已经掌握得比较清楚和牢固，基本</tspan><tspan x="1967" dy="18.1">规律和方法已经比较熟练，答题规范也有所提</tspan><tspan x="1967" dy="18.1">高，化学成绩也在不断的进步。但由于学生思</tspan><tspan x="1967" dy="18.1">维能力、认识水平、学习基础等发展不平衡，</tspan><tspan x="1967" dy="18.1">有少数同学没有达到理想的复习效果。</tspan></text></g>
<g id="p4-2"><text class="t" x="1772.7" y="3500.3">二、教学重难点</text></g>
<g id="p4-2a"><text class="t" x="1910.4" y="3437"><tspan x="1910.4">重点：高考大纲中的所有考点：物质的量、氧</tspan><tspan x="1910.4" dy="18.1">化还原反应、离子反应、碱金属、化学反应速</tspan><tspan x="1910.4" dy="18.1">率、化学平衡、盐类水解、物质结构和性质、</tspan><tspan x="1910.4" dy="18.1">工艺流程、化学实验等等。难点：做好各部分</tspan><tspan x="1910.4" dy="18.1">的知识点的总结，知识结构的梳理;总结各种</tspan><tspan x="1910.4" dy="18.1">题型的解题规律和解题方法、技巧;研究高考</tspan><tspan x="1910.4" dy="18.1">的动向、高考的信息并对高考作出比较准确的</tspan><tspan x="1910.4" dy="18.1">预测。</tspan></text></g>
<g id="p4-3"><text class="t" x="1772.7" y="3795.8">三、提高教学质量的措施</text></g>
<g id="p4-3a"><text class="t" x="1967" y="3625.8"><tspan x="1967">1、学期初集思广益，制定详细教学计划，谋</tspan><tspan x="1967" dy="18.1">划教学策略，使每个教师都对工作目标及自己</tspan><tspan x="1967" dy="18.1">的任务做到心中有数。</tspan></text></g>
<g id="p4-3b"><text class="t" x="1967" y="3724.6"><tspan x="1967">2、关注好零界生和优秀学生，做好因材施教</tspan><tspan x="1967" dy="18.1">。</tspan></text></g>
<g id="p4-3c"><text class="t" x="1967" y="3804.6">3、所选专题具有针对性，综合性。</text></g>
<g id="p4-3d"><text class="t" x="1967" y="3867.4"><tspan x="1967">4、抓基础(基本概念及规律)、练规范(思维过</tspan><tspan x="1967" dy="18.1">程及书写过程)、求精准(语言表述及用词)。</tspan></text></g>
<g id="p4-3e"><text class="t" x="1967" y="3947.4">5、适当进行实战训练(单科、理综)</text></g>
<g id="p4-4"><text class="t" x="1772.7" y="4185.4">四、具体安排</text></g>
<g id="p4-4a"><text class="t" x="1896.7" y="4046.3">第一阶段：基础知识系统复习</text></g>
<g id="p4-4a1"><text class="t" x="2119" y="4009.9"><tspan x="2119">采取按章节顺序复习的方式进行，贯彻"以讲</tspan><tspan x="2119" dy="18.1">引导，以练落实，学用结合，全面提高"的方</tspan><tspan x="2119" dy="18.1">针，遵循"教师为主导、学生为主体、训练为</tspan><tspan x="2119" dy="18.1">主线、能力为核心"的原则，使学生掌握《考</tspan><tspan x="2119" dy="18.1">试大纲》所要求的基础知识、基本技能。</tspan></text></g>
<g id="p4-4b"><text class="t" x="1896.7" y="4189">第二阶段：专题复习阶段</text></g>
<g id="p4-4b1"><text class="t" x="2091.6" y="4143.7"><tspan x="2091.6">本阶段是对第一阶段复习的归纳总结和深化，</tspan><tspan x="2091.6" dy="18.1">以专题或板块复习为主，贯彻"精备精讲，概</tspan><tspan x="2091.6" dy="18.1">念成网络;精选精练，知识成体系"的原则，培</tspan><tspan x="2091.6" dy="18.1">养学生知识迁移、灵活处理和综合分析的能力，</tspan><tspan x="2091.6" dy="18.1">通过专题归纳和专题训练达到提高能力的目的</tspan><tspan x="2091.6" dy="18.1">。</tspan></text></g>
<g id="p4-4c"><text class="t" x="1896.7" y="4324.4">第三阶段：模拟练考阶段</text></g>
<g id="p4-4c1"><text class="t" x="2091.6" y="4297.3"><tspan x="2091.6">本阶段选用具有一定综合性、难度适中、近似</tspan><tspan x="2091.6" dy="18.1">于高考试题模式的套题对学生进行强化模拟训</tspan><tspan x="2091.6" dy="18.1">练。重点培养学生的应试能力，贯彻"以练为</tspan><tspan x="2091.6" dy="18.1">主，辅以精讲"的原则。</tspan></text></g>

<g id="related"><rect class="b" x="1529.6" y="4668.3" width="288" height="41.3" rx="8"/><text class="t m" x="1538.5" y="4695.2">高三化学教师教学计划相关文章：</text></g>
<g id="rel-items">
<text class="t" x="1852" y="4414">★ 高三化学学科教学计划5篇</text>
<text class="t" x="1852" y="4476.2">★ 新学期高三化学教学计划5篇</text>
<text class="t" x="1852" y="4538.4">★ 高三化学教学计划2021</text>
<text class="t" x="1852" y="4600.6">★ 关于高三化学学科教学计划2021</text>
<text class="t" x="1852" y="4662.8">★ 关于高三化学教研组教学计划5篇</text>
<text class="t" x="1852" y="4725">★ 关于高三化学备课组教学计划</text>
<text class="t" x="1852" y="4787.2">★ 教学计划高中化学学情5篇</text>
<text class="t" x="1852" y="4849.4">★ 化学学科教学计划2021</text>
<text class="t" x="1852" y="4911.6">★ 苏教版高中化学必修课程教学计划2021</text>
<text class="t" x="1852" y="4973.8">★ 高中教师学期工作计划2021【五篇】</text>
</g>

<g id="watermark">
<text class="w" x="360" y="700" transform="rotate(-31 360 700)">树图 <tspan class="ws">shutu.cn</tspan></text>
<text class="w" x="360" y="1700" transform="rotate(-31 360 1700)">树图 <tspan class="ws">shutu.cn</tspan></text>
<text class="w" x="360" y="2700" transform="rotate(-31 360 2700)">树图 <tspan class="ws">shutu.cn</tspan></text>
<text class="w" x="360" y="3700" transform="rotate(-31 360 3700)">树图 <tspan class="ws">shutu.cn</tspan></text>
<text class="w" x="360" y="4700" transform="rotate(-31 360 4700)">树图 <tspan class="ws">shutu.cn</tspan></text>
<text class="w" x="1640" y="700" transform="rotate(-31 1640 700)">树图 <tspan class="ws">shutu.cn</tspan></text>
<text class="w" x="1640" y="1700" transform="rotate(-31 1640 1700)">树图 <tspan class="ws">shutu.cn</tspan></text>
<text class="w" x="1640" y="2700" transform="rotate(-31 1640 2700)">树图 <tspan class="ws">shutu.cn</tspan></text>
<text class="w" x="1640" y="3700" transform="rotate(-31 1640 3700)">树图 <tspan class="ws">shutu.cn</tspan></text>
<text class="w" x="1640" y="4700" transform="rotate(-31 1640 4700)">树图 <tspan class="ws">shutu.cn</tspan></text>
</g>
</g>
</svg>
